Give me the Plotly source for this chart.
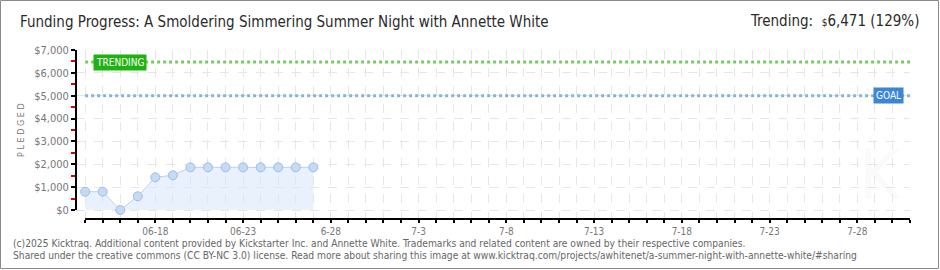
import pandas as pd
import plotly.graph_objects as go

# ---- data ----
DATES = pd.date_range("2025-06-14", "2025-06-27", freq="D")
PLEDGED = [800, 800, 0, 600, 1430, 1520, 1865, 1865, 1865, 1865, 1865, 1865, 1865, 1865]
GOAL = 5000
TRENDING = 6471
AXIS_START = "2025-06-14"
AXIS_END = "2025-07-31"
TICK_LABELS = {
    "2025-06-18": "06-18", "2025-06-23": "06-23", "2025-06-28": "6-28",
    "2025-07-03": "7-3", "2025-07-08": "7-8", "2025-07-13": "7-13",
    "2025-07-18": "7-18", "2025-07-23": "7-23", "2025-07-28": "7-28",
}
Y_TICKS = [0, 1000, 2000, 3000, 4000, 5000, 6000, 7000]
Y_TICK_TEXT = ["$0", "$1,000", "$2,000", "$3,000", "$4,000", "$5,000", "$6,000", "$7,000"]
Y_MINOR = [500, 1500, 2500, 3500, 4500, 5500, 6500]
TITLE = "Funding Progress: A Smoldering Simmering Summer Night with Annette White"
FOOT1 = ("(c)2025 Kicktraq. Additional content provided by Kickstarter Inc. and Annette White. "
         "Trademarks and related content are owned by their respective companies.")
FOOT2 = ("Shared under the creative commons (CC BY-NC 3.0) license. Read more about sharing this image at "
         "www.kicktraq.com/projects/awhitenet/a-summer-night-with-annette-white/#sharing")

FONT = "DejaVu Sans Condensed"
W, H = 940, 270
L, R, T, B = 76, 30, 50, 51
PW, PH = W - L - R, H - T - B

all_days = pd.date_range(AXIS_START, AXIS_END, freq="D")
tickvals = list(all_days)
ticktext = [TICK_LABELS.get(d.strftime("%Y-%m-%d"), "") for d in all_days]

x_lo = pd.Timestamp(AXIS_START) - pd.Timedelta(hours=12.5)
x_hi = pd.Timestamp(AXIS_END)
y_lo = -7000 * 9 / 160  # x axis sits ~9px below $0

fig = go.Figure()

fig.add_trace(go.Scatter(
    x=DATES, y=PLEDGED, mode="lines+markers",
    fill="tozeroy", fillcolor="rgba(214,230,250,0.55)",
    line=dict(color="#b8d3f1", width=1),
    marker=dict(size=9, color="#c5dbf5", line=dict(color="#9dbde4", width=1)),
    hoverinfo="skip", showlegend=False,
))

def px2paper_x(p):
    return (p - L) / PW

def px2paper_y(p):
    return (H - B - p) / PH

shapes = [
    dict(type="line", xref="x", yref="y", x0=AXIS_START, x1=AXIS_END, y0=TRENDING, y1=TRENDING,
         line=dict(color="#72cc62", width=3, dash="dot"), layer="above"),
    dict(type="line", xref="x", yref="y", x0=AXIS_START, x1=AXIS_END, y0=GOAL, y1=GOAL,
         line=dict(color="#82b2e6", width=3, dash="dot"), layer="above"),
    dict(type="line", xref="paper", yref="y", x0=0, x1=0, y0=0, y1=7000,
         line=dict(color="#000", width=2)),
    dict(type="line", xref="x", yref="paper", x0=AXIS_START, x1=AXIS_END, y0=0, y1=0,
         line=dict(color="#000", width=2)),
    dict(type="rect", xref="paper", yref="paper",
         x0=px2paper_x(0.5), x1=px2paper_x(W - 1.5), y0=px2paper_y(H - 1.5), y1=px2paper_y(0.5),
         line=dict(color="#8a8a8a", width=1)),
]

annotations = [
    dict(text=TITLE, xref="paper", yref="paper", x=px2paper_x(18), y=px2paper_y(22),
         xanchor="left", yanchor="middle", showarrow=False,
         font=dict(family=FONT, size=15, color="#2a2a2a")),
    dict(text="Trending:  <span style='font-size:10px'>$</span>6,471 (129%)", xref="paper", yref="paper",
         x=px2paper_x(921), y=px2paper_y(21), xanchor="right", yanchor="middle", showarrow=False,
         font=dict(family=FONT, size=15, color="#2a2a2a")),
    dict(text=FOOT1, xref="paper", yref="paper", x=px2paper_x(11), y=px2paper_y(243),
         xanchor="left", yanchor="middle", showarrow=False,
         font=dict(family=FONT, size=10.2, color="#666")),
    dict(text=FOOT2, xref="paper", yref="paper", x=px2paper_x(11), y=px2paper_y(255),
         xanchor="left", yanchor="middle", showarrow=False,
         font=dict(family=FONT, size=10.2, color="#666")),
    dict(text="P L E D G E D", xref="paper", yref="paper", x=px2paper_x(21), y=px2paper_y(130),
         xanchor="center", yanchor="middle", textangle=-90, showarrow=False,
         font=dict(family=FONT, size=9, color="#777")),
    dict(text="TRENDING", xref="x", yref="y",
         x=pd.Timestamp(AXIS_START) + pd.Timedelta(hours=11), y=TRENDING,
         xanchor="left", yanchor="middle", showarrow=False, bgcolor="#1fb311",
         borderpad=2, font=dict(family=FONT, size=10, color="#fff")),
    dict(text="GOAL", xref="paper", yref="y", x=px2paper_x(904), y=GOAL,
         xanchor="right", yanchor="middle", showarrow=False, bgcolor="#3b86d6",
         borderpad=2, font=dict(family=FONT, size=10, color="#fff")),
    dict(text="K", xref="paper", yref="paper", x=px2paper_x(880), y=px2paper_y(175),
         xanchor="center", yanchor="middle", showarrow=False,
         font=dict(family=FONT, size=70, color="rgba(0,0,0,0.018)")),
]

fig.update_layout(
    width=W, height=H, margin=dict(l=L, r=R, t=T, b=B),
    paper_bgcolor="white", plot_bgcolor="white",
    font=dict(family=FONT, color="#666"),
    shapes=shapes, annotations=annotations, showlegend=False,
    xaxis=dict(
        type="date", range=[x_lo, x_hi], tickmode="array", tickvals=tickvals, ticktext=ticktext,
        showline=False, zeroline=False, ticks="outside", ticklen=3, tickwidth=1.5, tickcolor="#000",
        showgrid=True, gridcolor="#e6e6e6", griddash="dash", gridwidth=1,
        tickfont=dict(family=FONT, size=10, color="#777"), fixedrange=True,
    ),
    yaxis=dict(
        range=[y_lo, 7000], tickmode="array", tickvals=Y_TICKS, ticktext=Y_TICK_TEXT,
        showline=False, zeroline=False,
        ticks="outside", ticklen=4, tickwidth=1.5, tickcolor="#000",
        showgrid=True, gridcolor="#e6e6e6", griddash="dash", gridwidth=1,
        tickfont=dict(family=FONT, size=11, color="#777"),
        minor=dict(tickmode="array", tickvals=Y_MINOR, ticks="outside", ticklen=4,
                   tickcolor="#e00000", tickwidth=2, showgrid=False),
        fixedrange=True,
    ),
)

fig.write_html("out.html")
